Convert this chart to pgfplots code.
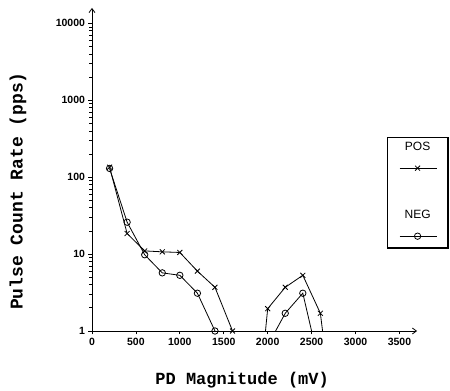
\documentclass[border=0pt]{standalone}
\usepackage{fontspec}
\setmainfont{Liberation Sans}
\newfontfamily\monob{Liberation Mono}
\usepackage{pgfplots}
\pgfplotsset{compat=1.18}
\usetikzlibrary{arrows.meta}
\begin{document}
\begin{tikzpicture}[x=1pt,y=1pt]
\useasboundingbox (0,0) rectangle (450,391);
\begin{axis}[
  at={(92pt,60pt)}, anchor=south west,
  scale only axis, width=325pt, height=323pt,
  clip=false,
  axis lines=left,
  axis line style={line width=0.8pt, -{Straight Barb[length=4pt,width=6pt]}},
  xmin=0, xmax=3700,
  ymode=log, ymin=1, ymax=15849,
  xtick={0,500,1000,1500,2000,2500,3000,3500},
  ytick={1,10,100,1000,10000},
  yticklabels={1,10,100,1000,10000},
  minor ytick={}, minor xtick={},
  tick align=outside,
  major tick length=3.5pt,
  tick style={black, line width=0.7pt},
  /pgf/number format/assume math mode=true,
  /pgf/number format/set thousands separator={},
  ticklabel style={font=\fontsize{10.5}{12}\selectfont\bfseries},
  xlabel={\monob\bfseries PD Magnitude (mV)},
  ylabel={\monob\bfseries Pulse Count Rate (pps)},
  xlabel style={font=\fontsize{17}{19}\selectfont, at={(axis description cs:0.462,-0.152)}, anchor=center},
  ylabel style={font=\fontsize{18}{20}\selectfont, at={(axis description cs:-0.228,0.433)}, anchor=center, rotate=0},
  legend style={at={(axis description cs:0.908,0.60)}, anchor=north west,
    draw=none, fill=none, inner sep=0pt, outer sep=0pt, row sep=0pt,
    nodes={inner sep=0pt, outer sep=0pt}, /tikz/every even column/.style={column sep=0pt}},
  legend cell align=center,
]
\addplot[black, line width=0.8pt, mark=x, mark size=3.5pt,
  legend image code/.code={
    \path[draw=none, fill=none] (-30.5pt,-37pt) rectangle (30.5pt,31pt);
    \draw[black, line width=0.8pt] (-18pt,0pt) -- (19pt,0pt);
    \draw[black, line width=0.8pt] plot[mark=x, mark size=3.5pt] coordinates {(0pt,0pt)};
    \node[font=\fontsize{12}{14}\selectfont, draw=none] at (0pt,21pt) {POS};
  }]
  coordinates {(200,135) (400,18.5) (600,11) (800,10.7) (1000,10.5) (1200,6) (1400,3.7) (1600,1)};
\addlegendentry{\mbox{}}
\addplot[black, line width=0.8pt, mark=o, mark size=3.2pt,
  legend image code/.code={
    \path[draw=none, fill=none] (-30.5pt,-12pt) rectangle (30.5pt,31pt);
    \draw[black, line width=0.8pt] (-18pt,0pt) -- (19pt,0pt);
    \draw[black, line width=0.8pt] plot[mark=o, mark size=3.2pt] coordinates {(0pt,0pt)};
    \node[font=\fontsize{12}{14}\selectfont, draw=none] at (0pt,21pt) {NEG};
  }]
  coordinates {(200,130) (400,26) (600,9.8) (800,5.7) (1000,5.3) (1200,3.1) (1400,1)};
\addlegendentry{\mbox{}}
\addplot[black, line width=0.8pt, mark=x, mark size=3.5pt, mark indices={2,3,4,5}, forget plot]
  coordinates {(1975,1) (2000,1.95) (2200,3.7) (2400,5.3) (2600,1.7) (2625,1)};
\addplot[black, line width=0.8pt, mark=o, mark size=3.2pt, mark indices={2,3}, forget plot]
  coordinates {(2090,1) (2200,1.7) (2400,3.1) (2500,1)};
\draw[black, line width=0.8pt] (rel axis cs:0.908,0.257) -- (rel axis cs:0.908,0.60) -- (rel axis cs:1.0954,0.60);
\draw[black, line width=1.4pt] (rel axis cs:1.0954,0.60) -- (rel axis cs:1.0954,0.257) -- (rel axis cs:0.908,0.257);
\end{axis}
\end{tikzpicture}
\end{document}
